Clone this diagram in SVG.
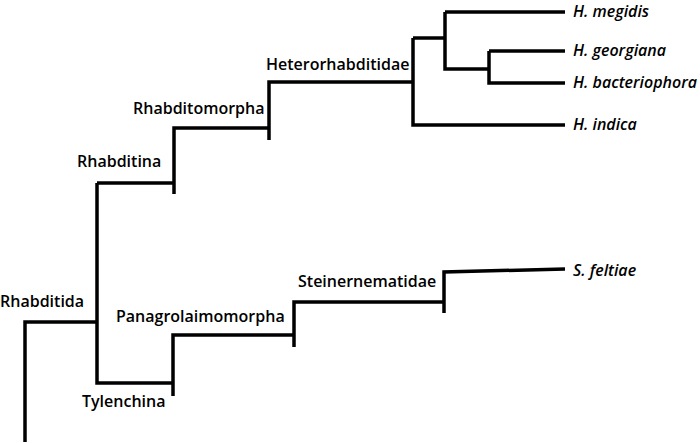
<svg xmlns="http://www.w3.org/2000/svg" width="700" height="443" viewBox="0 0 700 443">
<style>
.e{fill:none;stroke:#000;stroke-width:3.5;stroke-linecap:butt;stroke-linejoin:miter}
.c{font-family:"Open Sans","Liberation Sans",sans-serif;font-size:16px;font-weight:600;fill:#000}
.s{font-family:"Open Sans","Liberation Sans",sans-serif;font-size:16px;font-weight:600;font-style:italic;fill:#000}
</style>
<rect width="700" height="443" fill="#fff"/>
<g id="connectors">
<path class="e" d="M25,442 V322 H97"/>
<path class="e" d="M97,183 V383 H173"/>
<path class="e" d="M97,183 H174"/>
<path class="e" d="M174,194 V128 H269"/>
<path class="e" d="M269,140 V82 H413"/>
<path class="e" d="M413,38 V125 H565"/>
<path class="e" d="M413,38 H445"/>
<path class="e" d="M445,12 V69 H489"/>
<path class="e" d="M445,12 H565"/>
<path class="e" d="M489,51 V83 H565"/>
<path class="e" d="M489,51 H565"/>
<path class="e" d="M173,396 V335 H294"/>
<path class="e" d="M294,347 V302 H444"/>
<path class="e" d="M444,313 V272 L565,269"/>
</g>
<g id="Rhabditida"><text class="c" x="0" y="307">Rhabditida</text></g>
<g id="Rhabditina"><text class="c" x="77" y="167">Rhabditina</text></g>
<g id="Tylenchina"><text class="c" x="82" y="407">Tylenchina</text></g>
<g id="Rhabditomorpha"><text class="c" x="133" y="114">Rhabditomorpha</text></g>
<g id="Panagrolaimomorpha"><text class="c" x="116" y="322">Panagrolaimomorpha</text></g>
<g id="Heterorhabditidae"><text class="c" x="266" y="70">Heterorhabditidae</text></g>
<g id="Steinernematidae"><text class="c" x="298" y="287">Steinernematidae</text></g>
<g id="H_megidis"><text class="s" x="573" y="17">H. megidis</text></g>
<g id="H_georgiana"><text class="s" x="573" y="56">H. georgiana</text></g>
<g id="H_bacteriophora"><text class="s" x="573" y="88">H. bacteriophora</text></g>
<g id="H_indica"><text class="s" x="573" y="130">H. indica</text></g>
<g id="S_feltiae"><text class="s" x="573" y="276">S. feltiae</text></g>
</svg>
